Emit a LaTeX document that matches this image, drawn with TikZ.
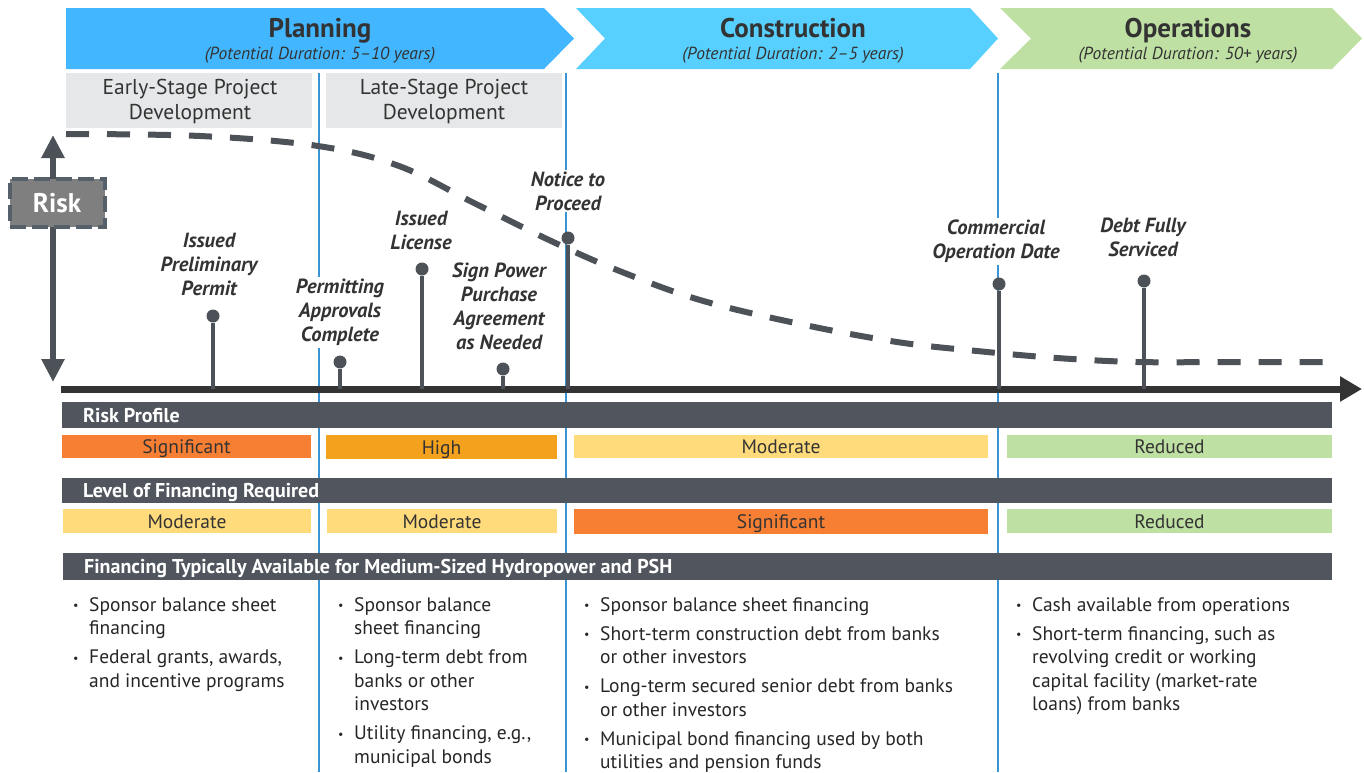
\documentclass[tikz,border=0pt]{standalone}
\usepackage{fontspec}
\setmainfont{PT Sans}
\usetikzlibrary{arrows.meta}

\definecolor{plancol}{HTML}{42B6FF}
\definecolor{conscol}{HTML}{58D0FF}
\definecolor{opscol}{HTML}{BFE0A3}
\definecolor{stagegray}{HTML}{E6E7E8}
\definecolor{inkgray}{HTML}{333333}
\definecolor{pingray}{HTML}{4D5259}
\definecolor{headgray}{HTML}{51565E}
\definecolor{phaseblue}{HTML}{3A93D2}
\definecolor{riskfill}{HTML}{7F7F7F}
\definecolor{riskedge}{HTML}{56606B}
\definecolor{sigcol}{HTML}{F77F34}
\definecolor{highcol}{HTML}{F4A21E}
\definecolor{modcol}{HTML}{FFDB7B}
\definecolor{redcol}{HTML}{BFE0A3}

\newcommand{\bul}{\raisebox{1.5pt}{\fontsize{12}{12}\selectfont\textbullet}}

\tikzset{
  phasetitle/.style={font=\fontsize{27}{30}\selectfont\bfseries, text=inkgray, anchor=base},
  phasesub/.style={font=\fontsize{17.5}{20}\selectfont\itshape, text=inkgray, anchor=base},
  stagetext/.style={font=\fontsize{21.5}{25}\selectfont, text=inkgray, align=center},
  milestone/.style={font=\fontsize{20.5}{24}\selectfont\bfseries\itshape, text=inkgray,
    align=center, fill=white, inner sep=2pt},
  pindot/.style={circle, fill=pingray, inner sep=0pt, minimum size=13pt},
  pinstem/.style={draw=pingray, line width=3.5pt},
  headtext/.style={font=\fontsize{20}{22}\selectfont\bfseries, text=white, anchor=base west, inner sep=0pt},
  bartext/.style={font=\fontsize{19.5}{21}\selectfont, text=inkgray, anchor=base},
  bullets/.style={font=\fontsize{19.5}{23.5}\selectfont, text=black!85, anchor=base west, inner sep=0pt},
  phaseline/.style={draw=phaseblue, line width=1.5pt},
}

\begin{document}
\begin{tikzpicture}[x=1pt, y=-1pt]
  \useasboundingbox (0,0) rectangle (1364,772);

  % phase separators
  \draw[phaseline] (319,73) -- (319,772);
  \draw[phaseline] (566,73) -- (566,772);
  \draw[phaseline] (998,73) -- (998,772);

  % phase chevrons
  \fill[plancol] (66,8) -- (544,8) -- (574,38.5) -- (544,69) -- (66,69) -- cycle;
  \fill[conscol] (576,8) -- (970,8) -- (998,38.5) -- (970,69) -- (576,69) -- (605,38.5) -- cycle;
  \fill[opscol] (1000,8) -- (1332,8) -- (1362,38.5) -- (1332,69) -- (1000,69) -- (1031,38.5) -- cycle;

  \node[phasetitle] (plan) at (320,37) {Planning};
  \node[phasesub] (plansub) at (320,59) {(Potential Duration: 5--10 years)};
  \node[phasetitle] (cons) at (793,37) {Construction};
  \node[phasesub] (conssub) at (793,59) {(Potential Duration: 2--5 years)};
  \node[phasetitle] (ops) at (1188,37) {Operations};
  \node[phasesub] (opssub) at (1188,59) {(Potential Duration: 50+ years)};

  % development stages
  \draw[fill=stagegray, draw=none] (66,73) rectangle (312,128);
  \draw[fill=stagegray, draw=none] (326,73) rectangle (562,128);
  \node[stagetext] (early) at (190,101) {Early-Stage Project\\Development};
  \node[stagetext] (late) at (444,101) {Late-Stage Project\\Development};

  % risk profile
  \draw[fill=headgray, draw=none] (62,402) rectangle (1332,428);
  \node[headtext] (rphead) at (83,422) {Risk Profile};
  \draw[fill=sigcol, draw=none] (62,435) rectangle (311,458);
  \draw[fill=highcol, draw=none] (326,435) rectangle (557,459);
  \draw[fill=modcol, draw=none] (574,435) rectangle (988,458);
  \draw[fill=redcol, draw=none] (1007,435) rectangle (1332,458);
  \node[bartext] (rp1) at (186.5,453) {Significant};
  \node[bartext] (rp2) at (441.5,454) {High};
  \node[bartext] (rp3) at (781,453) {Moderate};
  \node[bartext] (rp4) at (1169.5,453) {Reduced};

  % level of financing
  \draw[fill=headgray, draw=none] (62,478) rectangle (1332,503);
  \node[headtext] (lfhead) at (83,497) {Level of Financing Required};
  \draw[fill=modcol, draw=none] (63,509) rectangle (311,533);
  \draw[fill=modcol, draw=none] (327,509) rectangle (557,533);
  \draw[fill=sigcol, draw=none] (574,509) rectangle (988,534);
  \draw[fill=redcol, draw=none] (1007,509) rectangle (1332,533);
  \node[bartext] (lf1) at (187,528) {Moderate};
  \node[bartext] (lf2) at (442,528) {Moderate};
  \node[bartext] (lf3) at (781,528.5) {Significant};
  \node[bartext] (lf4) at (1169.5,528) {Reduced};

  % financing sources
  \draw[fill=headgray, draw=none] (63,553) rectangle (1332,580);
  \node[headtext] (fshead) at (84,573) {Financing Typically Available for Medium-Sized Hydropower and PSH};

  \node[bullets] (fs1) at (73,611) {\begin{tabular}[t]{@{}p{16pt}@{}l@{}}
    \bul & Sponsor balance sheet\\
         & financing\\[5.5pt]
    \bul & Federal grants, awards,\\
         & and incentive programs
  \end{tabular}};
  \node[bullets] (fs2) at (338,611) {\begin{tabular}[t]{@{}p{16pt}@{}l@{}}
    \bul & Sponsor balance\\
         & sheet financing\\[5.5pt]
    \bul & Long-term debt from\\
         & banks or other\\
         & investors\\[5.5pt]
    \bul & Utility financing, e.g.,\\
         & municipal bonds
  \end{tabular}};
  \node[bullets] (fs3) at (584,611) {\begin{tabular}[t]{@{}p{16pt}@{}l@{}}
    \bul & Sponsor balance sheet financing\\[5.5pt]
    \bul & Short-term construction debt from banks\\
         & or other investors\\[5.5pt]
    \bul & Long-term secured senior debt from banks\\
         & or other investors\\[5.5pt]
    \bul & Municipal bond financing used by both\\
         & utilities and pension funds
  \end{tabular}};
  \node[bullets] (fs4) at (1016,611) {\begin{tabular}[t]{@{}p{16pt}@{}l@{}}
    \bul & Cash available from operations\\[5.5pt]
    \bul & Short-term financing, such as\\
         & revolving credit or working\\
         & capital facility (market-rate\\
         & loans) from banks
  \end{tabular}};

  % time axis
  \coordinate (ax0) at (61,389);
  \coordinate (ax1) at (1362,389);
  \draw[draw=inkgray, line width=7pt, -{Triangle[width=24pt,length=22pt]}] (ax0) -- (ax1);

  % milestones
  \node[milestone] (m1) at (209,264) {Issued\\Preliminary\\Permit};
  \node[milestone] (m2) at (340,312.5) {Permitting\\Approvals\\Complete};
  \node[milestone] (m3) at (421,230) {Issued\\License};
  \node[milestone] (m4) at (499,306.5) {Sign Power\\Purchase\\Agreement\\as Needed};
  \node[milestone] (m5) at (568,191) {Notice to\\Proceed};
  \node[milestone] (m6) at (996,241.5) {Commercial\\Operation Date};
  \node[milestone] (m7) at (1143,237.5) {Debt Fully\\Serviced};

  % risk curve
  \draw[draw=pingray, line width=6pt, dash pattern=on 23pt off 18pt]
    plot[smooth, tension=0.6] coordinates {(66,134) (200,136) (318,146) (399,166) (474,203)
      (549,240) (617,270) (700,300) (800,324) (897,342) (977,351) (1057,358) (1137,362)
      (1230,362) (1330,362)};

  \coordinate (a1) at (213,389);
  \coordinate (a2) at (340,389);
  \coordinate (a3) at (422,389);
  \coordinate (a4) at (503,389);
  \coordinate (a5) at (568,389);
  \coordinate (a6) at (999,389);
  \coordinate (a7) at (1144,389);
  \node[pindot] (p1) at (213,316) {};
  \node[pindot] (p2) at (340,362) {};
  \node[pindot] (p3) at (422,269) {};
  \node[pindot] (p4) at (503,369) {};
  \node[pindot] (p5) at (568,238) {};
  \node[pindot] (p6) at (999,284) {};
  \node[pindot] (p7) at (1144,281) {};
  \foreach \i in {1,...,7}
    \draw[pinstem] (p\i) -- (a\i);

  % risk scale
  \coordinate (rtop) at (53,135);
  \coordinate (rbot) at (53,382);
  \draw[draw=pingray, line width=6pt, {Triangle[width=22pt,length=23pt]}-{Triangle[width=22pt,length=23pt]}]
    (rtop) -- (rbot);
  \node[fill=riskfill, draw=riskedge, line width=4pt, dash pattern=on 16pt off 6pt,
    minimum width=95pt, minimum height=48pt, inner sep=0pt, text=white,
    font=\fontsize{27}{29}\selectfont\bfseries] (risk) at (57,203) {Risk};

\end{tikzpicture}
\end{document}
